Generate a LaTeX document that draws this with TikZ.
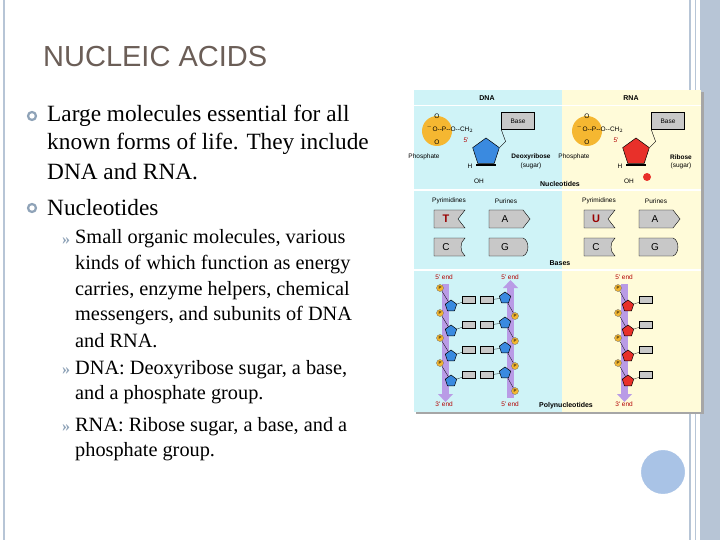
\documentclass[tikz,border=0pt]{standalone}
\usepackage{fontspec}
\setmainfont{Liberation Serif}
\newfontfamily\arialf{Liberation Sans}
\usetikzlibrary{shapes.geometric}
\definecolor{frame}{HTML}{B7C5D6}
\definecolor{titlec}{HTML}{6B5E57}
\definecolor{bul}{HTML}{8FA3B8}
\definecolor{dnabg}{HTML}{CFF3F7}
\definecolor{rnabg}{HTML}{FFFBD9}
\definecolor{phos}{HTML}{F5B731}
\definecolor{sugb}{HTML}{3A8AE0}
\definecolor{sugr}{HTML}{E8302A}
\definecolor{strand}{HTML}{B99BE6}
\definecolor{basebox}{HTML}{C8C8C8}
\definecolor{decoc}{HTML}{A9C3E6}
\tikzset{
  main/.style={anchor=west,font=\fontsize{23.3}{26}\selectfont,inner sep=0pt},
  sub/.style={anchor=west,font=\fontsize{20.3}{26}\selectfont,inner sep=0pt},
  ring/.style={circle,draw=bul,line width=2.2pt,minimum size=8pt,inner sep=0pt},
  lab/.style={font=\arialf\fontsize{6.5}{7}\selectfont,inner sep=0pt},
  pent/.style={regular polygon,regular polygon sides=5,inner sep=0pt,draw=black,line width=0.5pt},
  pp/.style={circle,fill=phos,draw=black!60,line width=0.3pt,minimum size=7pt,inner sep=0pt,font=\arialf\fontsize{4.5}{5}\selectfont},
  bb/.style={draw=black,fill=basebox,line width=0.4pt,minimum width=13pt,minimum height=7pt,inner sep=0pt,font=\arialf\fontsize{5}{5}\selectfont}
}
\begin{document}
\begin{tikzpicture}[x=1pt,y=-1pt]
\useasboundingbox (0,0) rectangle (720,540);
\fill[white] (0,0) rectangle (720,540);
% slide frame
\fill[frame] (700,0) rectangle (720,540);
\draw[frame,line width=1.5pt] (4,0) -- (4,540);
\draw[frame,line width=1.5pt] (690,0) -- (690,540);
\draw[frame,line width=1pt] (695,0) -- (695,540);
\node[circle,fill=decoc,draw=white,line width=2pt,minimum size=46pt] (deco) at (663,472) {};
% title
\node[anchor=west,font=\arialf\fontsize{29}{32}\selectfont,text=titlec,inner sep=0pt] (title) at (43,57) {NUCLEIC ACIDS};
% bullets
\node[ring] (b1) at (32,116) {};
\node[main] (t1a) at (47,116) {Large molecules essential for all};
\node[main] (t1b) at (47,144) {known forms of life. They include};
\node[main] (t1c) at (47,172) {DNA and RNA.};
\node[ring] (b2) at (32,208) {};
\node[main] (t2) at (47,208) {Nucleotides};
\foreach \y/\n in {240/s1,370/s2,427/s3}{
  \node[font=\bfseries\fontsize{16}{16}\selectfont,text=bul,inner sep=0pt] (\n) at (66,\y+1) {\guillemotright};
}
\node[sub] (u1) at (75,239) {Small organic molecules, various};
\node[sub] (u2) at (75,265) {kinds of which function as energy};
\node[sub] (u3) at (75,291) {carries, enzyme helpers, chemical};
\node[sub] (u4) at (75,316) {messengers, and subunits of DNA};
\node[sub] (u5) at (75,341) {and RNA.};
\node[sub] (v1) at (75,370) {DNA: Deoxyribose sugar, a base,};
\node[sub] (v2) at (75,395) {and a phosphate group.};
\node[sub] (w1) at (75,427) {RNA: Ribose sugar, a base, and a};
\node[sub] (w2) at (75,452) {phosphate group.};
% ---------------- image ----------------
\fill[black!35] (416,92) rectangle (704,414);
\fill[dnabg] (414,90) rectangle (562,412);
\fill[rnabg] (562,90) rectangle (701,412);
\draw[white,line width=1pt] (414,106) -- (701,106);
\draw[white,line width=1.5pt] (414,190) -- (701,190);
\draw[white,line width=1.5pt] (414,270) -- (701,270);
\node[lab,font=\arialf\bfseries\fontsize{7}{7}\selectfont] (hdna) at (487,98) {DNA};
\node[lab,font=\arialf\bfseries\fontsize{7}{7}\selectfont] (hrna) at (631,98) {RNA};
% nucleotides
\foreach \dx/\col/\nm/\sg in {0/sugb/Deoxyribose/d,150/sugr/Ribose/r}{
  \begin{scope}[xshift=\dx]
  \fill[phos] (437,131) circle (15);
  \node[lab] (po\sg) at (437,116) {O};
  \node[lab] (pp\sg) at (450,129) {$^{-}$O--P--O--CH$_2$};
  \node[lab] (pu\sg) at (437,142) {O};
  \node[pent,fill=\col,minimum size=28pt] (su\sg) at (486,152) {};
  \node[lab,text=red!70!black] (f\sg) at (466,140) {5'};
  \node[lab] (h\sg) at (470,166) {H};
  \node[lab] (oh\sg) at (479,181) {OH};
  \draw[line width=2pt] (476,165) -- (496,165);
  \node[bb,minimum width=33pt,minimum height=17pt,font=\arialf\fontsize{6.5}{7}\selectfont] (ba\sg) at (518,121) {Base};
  \draw (su\sg.corner 5) -- ++(6,-6) -- (ba\sg.south west);
  \node[lab] (ph\sg) at (424,157) {Phosphate};
  \node[lab,font=\arialf\bfseries\fontsize{6.5}{7}\selectfont] (sn\sg) at (531,157) {\nm};
  \node[lab] (sg\sg) at (531,166) {(sugar)};
  \end{scope}
}
\fill[sugr] (647,177) circle (4);
\node[lab,font=\arialf\bfseries\fontsize{7}{7}\selectfont] (hnuc) at (560,184) {Nucleotides};
% bases
\foreach \dx/\sg in {0/d,150/r}{
  \node[lab] (py\sg) at (449+\dx,201) {Pyrimidines};
  \node[lab] (pu2\sg) at (506+\dx,201) {Purines};
}
\foreach \x/\t/\c in {434/T/red!60!black,584/U/red!60!black}{
  \draw[fill=basebox] (\x,210) -- ++(31,0) -- ++(-7,9) -- ++(7,9) -- ++(-31,0) -- cycle;
  \node[font=\arialf\bfseries\fontsize{11}{11}\selectfont,text=\c] (bt\x) at (\x+12,219) {\t};
  \draw[fill=basebox] (\x,238) -- ++(31,0) to[bend right=50] ++(0,18) -- ++(-31,0) -- cycle;
  \node[font=\arialf\fontsize{10}{10}\selectfont] (bc\x) at (\x+12,247) {C};
}
\foreach \x in {489,639}{
  \draw[fill=basebox] (\x,210) -- ++(34,0) -- ++(7,9) -- ++(-7,9) -- ++(-34,0) -- cycle;
  \node[font=\arialf\fontsize{10}{10}\selectfont] (ba\x) at (\x+16,219) {A};
  \draw[fill=basebox] (\x,238) -- ++(34,0) to[bend left=70] ++(0,18) -- ++(-34,0) -- cycle;
  \node[font=\arialf\fontsize{10}{10}\selectfont] (bg\x) at (\x+16,247) {G};
}
\node[lab,font=\arialf\bfseries\fontsize{7}{7}\selectfont] (hbas) at (560,263) {Bases};
% polynucleotides
\fill[strand] (442,284) rectangle (449,394);
\fill[strand] (438,394) -- (453,394) -- (445.5,402) -- cycle;
\fill[strand] (507,288) rectangle (514,398);
\fill[strand] (503,288) -- (518,288) -- (510.5,280) -- cycle;
\fill[strand] (621,284) rectangle (628,394);
\fill[strand] (617,394) -- (632,394) -- (624.5,402) -- cycle;
\foreach \x/\t in {444/5' end,510/5' end,624/5' end}{\node[lab,text=red!70!black] at (\x,277) {\t};}
\foreach \x/\t in {444/3' end,510/5' end,624/3' end}{\node[lab,text=red!70!black] at (\x,404) {\t};}
\node[lab,font=\arialf\bfseries\fontsize{7}{7}\selectfont] (hpoly) at (566,406) {Polynucleotides};
\foreach \i/\y in {1/306,2/331,3/356,4/381}{
  \node[pp] (pl\i) at (440,\y-18) {P};
  \node[pent,fill=sugb,minimum size=12pt] (sl\i) at (451,\y) {};
  \draw[line width=0.3pt] (pl\i) -- (sl\i);
  \node[bb] (bl\i) at (469,\y-6) {};
  \node[bb] (br\i) at (487,\y-6) {};
  \draw[line width=0.3pt] (sl\i) -- (bl\i);
  \node[pent,fill=sugb,minimum size=12pt] (sr\i) at (505,\y-8) {};
  \node[pp] (pr\i) at (515,\y+10) {P};
  \draw[line width=0.3pt] (sr\i) -- (pr\i);
  \draw[line width=0.3pt] (br\i) -- (sr\i);
  \node[pp] (q\i) at (618,\y-18) {P};
  \node[pent,fill=sugr,minimum size=12pt] (rs\i) at (628,\y) {};
  \draw[line width=0.3pt] (q\i) -- (rs\i);
  \node[bb] (rb\i) at (646,\y-6) {};
  \draw[line width=0.3pt] (rs\i) -- (rb\i);
}
\end{tikzpicture}
\end{document}
